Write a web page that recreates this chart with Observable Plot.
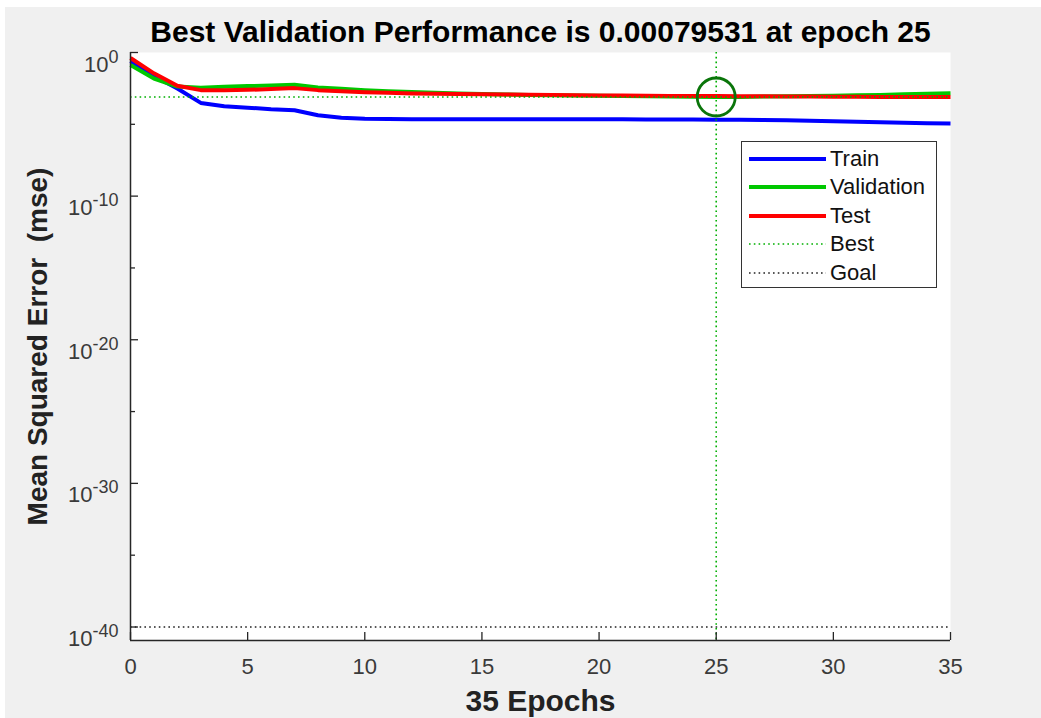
<!DOCTYPE html>
<html>
<head>
<meta charset="utf-8">
<script src="https://cdn.jsdelivr.net/npm/d3@7"></script>
<script src="https://cdn.jsdelivr.net/npm/@observablehq/plot@0.6"></script>
<style>
  html, body { margin: 0; padding: 0; background: #ffffff; }
  body { width: 1041px; height: 718px; overflow: hidden; position: relative; font-family: "Liberation Sans", Arial, sans-serif; }
  #bg { position: absolute; left: 5px; top: 7px; right: 0; bottom: 0; background: #f0f0f0; }
  #chart { position: absolute; left: 0; top: 0; }
  #chart svg { background: transparent !important; }
  #legend { position: absolute; left: 741px; top: 141px; width: 194px; height: 145px; background: #fff; border: 1.5px solid #333; }
  .lg-row { position: absolute; left: 0; height: 28px; width: 194px; }
  .lg-row svg { position: absolute; left: 7px; top: 0; }
  .lg-row span { position: absolute; left: 88px; top: 1px; font-size: 22px; line-height: 26px; color: #111; }
</style>
</head>
<body>
<div id="bg"></div>
<div id="chart"></div>
<div id="legend"></div>
<script>
// ---------------- data ----------------
const epochs = [0,1,2,3,4,5,6,7,8,9,10,11,12,13,14,15,16,17,18,19,20,21,22,23,24,25,26,27,28,29,30,31,32,33,34,35];

const trainMSE = [
  0.251, 0.0229, 3.09e-3, 3.09e-4, 1.82e-4, 1.45e-4, 1.12e-4, 9.55e-5, 4.27e-5, 2.88e-5,
  2.45e-5, 2.34e-5, 2.29e-5, 2.24e-5, 2.24e-5, 2.24e-5, 2.24e-5, 2.24e-5, 2.24e-5, 2.24e-5,
  2.24e-5, 2.24e-5, 2.19e-5, 2.19e-5, 2.19e-5, 2.09e-5, 2.04e-5, 2.00e-5, 1.91e-5, 1.78e-5,
  1.62e-5, 1.48e-5, 1.38e-5, 1.29e-5, 1.20e-5, 1.15e-5
];

const validationMSE = [
  0.135, 0.0155, 4.27e-3, 3.47e-3, 4.07e-3, 4.57e-3, 5.01e-3, 5.62e-3, 3.63e-3, 2.95e-3,
  2.40e-3, 2.04e-3, 1.78e-3, 1.58e-3, 1.41e-3, 1.29e-3, 1.20e-3, 1.12e-3, 1.07e-3, 1.02e-3,
  9.77e-4, 9.33e-4, 8.91e-4, 8.51e-4, 8.32e-4, 7.9531e-4, 8.13e-4, 8.51e-4, 8.91e-4, 9.33e-4,
  9.77e-4, 1.05e-3, 1.12e-3, 1.23e-3, 1.35e-3, 1.48e-3
];

const testMSE = [
  0.417, 0.0355, 4.79e-3, 2.40e-3, 2.40e-3, 2.51e-3, 2.82e-3, 3.31e-3, 2.40e-3, 2.04e-3,
  1.74e-3, 1.55e-3, 1.41e-3, 1.35e-3, 1.29e-3, 1.26e-3, 1.20e-3, 1.15e-3, 1.10e-3, 1.07e-3,
  1.02e-3, 1.00e-3, 9.77e-4, 9.55e-4, 9.33e-4, 9.33e-4, 9.12e-4, 8.91e-4, 8.71e-4, 8.51e-4,
  8.32e-4, 8.32e-4, 8.13e-4, 8.13e-4, 8.13e-4, 8.13e-4
];

const bestEpoch = 25;
const bestPerf = 0.00079531;
const goal = 1e-40;

const seriesNames = ["Train", "Validation", "Test"];
const seriesColors = ["#0000ff", "#00c800", "#ff0000"];
const bestColor = "#00b000";
const circleColor = "#0a750a";

const xTicks = [0, 5, 10, 15, 20, 25, 30, 35];
const yMajorTicks = [1, 1e-10, 1e-20, 1e-30, 1e-40];
const yTickExponents = ["0", "-10", "-20", "-30", "-40"];
const yMinorTicks = [1e-5, 1e-15, 1e-25, 1e-35];
const xDomain = [0, 35];
const yDomain = [1.15e-41, 1];

const titleText = "Best Validation Performance is 0.00079531 at epoch 25";
const xLabel = "35 Epochs";
const yLabel = "Mean Squared Error  (mse)";

// ---------------- build table ----------------
const seriesValues = [trainMSE, validationMSE, testMSE];
const rows = [];
seriesNames.forEach((name, si) => {
  epochs.forEach((e, i) => rows.push({series: name, epoch: e, mse: seriesValues[si][i]}));
});

const W = 1041, H = 718;
const mL = 130, mR = 91, mT = 52, mB = 78;
const frameW = W - mL - mR, frameH = H - mT - mB;
const axisColor = "#262626";

const chart = Plot.plot({
  width: W,
  height: H,
  marginLeft: mL, marginRight: mR, marginTop: mT, marginBottom: mB,
  style: {background: "transparent", fontFamily: "'Liberation Sans', Arial, sans-serif", color: axisColor, overflow: "visible"},
  x: {domain: xDomain},
  y: {type: "log", domain: yDomain},
  marks: [
    Plot.frame({fill: "#ffffff", stroke: null}),
    // goal line
    Plot.ruleY([goal], {stroke: "#222", strokeWidth: 1.6, strokeDasharray: "1.6,3.2"}),
    // series lines
    ...seriesNames.map((name, si) =>
      Plot.line(rows.filter(r => r.series === name), {
        x: "epoch", y: "mse", stroke: seriesColors[si], strokeWidth: 4,
        strokeLinejoin: "round", strokeLinecap: "butt"
      })
    ),
    // best lines
    Plot.ruleX([bestEpoch], {stroke: bestColor, strokeWidth: 1.6, strokeDasharray: "1.6,3.2"}),
    Plot.ruleY([bestPerf], {stroke: bestColor, strokeWidth: 1.6, strokeDasharray: "1.6,3.2"}),
    Plot.dot([{epoch: bestEpoch, mse: bestPerf}], {x: "epoch", y: "mse", r: 19, stroke: circleColor, strokeWidth: 2.8, fill: "none"}),
    // axis lines
    Plot.ruleX([xDomain[0]], {stroke: axisColor, strokeWidth: 1.5}),
    Plot.ruleY([yDomain[0]], {stroke: axisColor, strokeWidth: 1.5}),
    // inward ticks
    Plot.tickX(xTicks, {x: d => d, insetTop: frameH - 8, stroke: axisColor, strokeWidth: 1.3}),
    Plot.tickY(yMajorTicks, {y: d => d, insetRight: frameW - 8, stroke: axisColor, strokeWidth: 1.3}),
    Plot.tickY(yMinorTicks, {y: d => d, insetRight: frameW - 5, stroke: axisColor, strokeWidth: 1.3}),
    // tick labels
    Plot.axisX({ticks: xTicks, tickSize: 0, tickPadding: 18, fontSize: 22, label: null, fill: "#3a3a3a", tickFormat: d => String(d)}),
    Plot.axisY({ticks: yMajorTicks, tickSize: 0, tickPadding: 12, fontSize: 22, label: null, fill: "#3a3a3a",
      tickFormat: d => yTickExponents[yMajorTicks.indexOf(d)]}),
    // title and axis labels
    Plot.text([titleText], {frameAnchor: "top", lineAnchor: "middle", textAnchor: "middle", dy: -20, fontSize: 30, fontWeight: "bold", fill: "#000"}),
    Plot.text([xLabel], {frameAnchor: "bottom", lineAnchor: "middle", textAnchor: "middle", dy: 61, fontSize: 30, fontWeight: "bold", fill: "#222"}),
    Plot.text([yLabel], {frameAnchor: "left", lineAnchor: "middle", textAnchor: "middle", dx: -92, rotate: -90, fontSize: 28, fontWeight: "bold", fill: "#222"})
  ]
});

document.getElementById("chart").appendChild(chart);

// superscript exponents on y tick labels
d3.select(chart).selectAll('g[aria-label="y-axis tick label"] text').each(function() {
  const t = d3.select(this);
  const exp = t.text();
  t.text(null).attr("dy", 12);
  t.append("tspan").text("10");
  t.append("tspan").attr("dy", -9).attr("font-size", 18).text(exp);
});

// ---------------- legend ----------------
const legendItems = [
  {label: seriesNames[0], color: seriesColors[0], dash: null, width: 4},
  {label: seriesNames[1], color: seriesColors[1], dash: null, width: 4},
  {label: seriesNames[2], color: seriesColors[2], dash: null, width: 4},
  {label: "Best", color: bestColor, dash: "1.6,3.2", width: 1.6},
  {label: "Goal", color: "#222", dash: "1.6,3.2", width: 1.6}
];
const legend = document.getElementById("legend");
legendItems.forEach((it, i) => {
  const row = document.createElement("div");
  row.className = "lg-row";
  row.style.top = (3 + i * 28.4) + "px";
  row.innerHTML = `<svg width="78" height="28"><line x1="0" x2="77" y1="14" y2="14" stroke="${it.color}" stroke-width="${it.width}" ${it.dash ? `stroke-dasharray="${it.dash}"` : ""}/></svg><span>${it.label}</span>`;
  legend.appendChild(row);
});
</script>
</body>
</html>
